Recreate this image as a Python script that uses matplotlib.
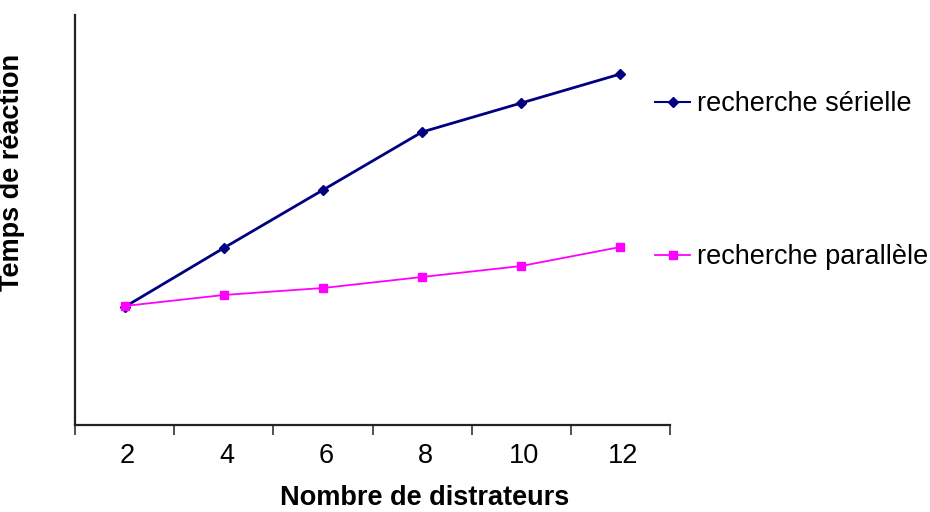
import matplotlib.pyplot as plt
from matplotlib.lines import Line2D

plt.rcParams['font.family'] = ['Liberation Sans', 'DejaVu Sans']

# data (y in arbitrary units, no scale shown on the original)
distracteurs = ['2', '4', '6', '8', '10', '12']
serielle = [118, 177, 235, 293, 322, 351]
parallele = [119, 130, 137, 148, 159, 178]

fig = plt.figure(figsize=(9.3, 5.12), dpi=100)
ax = fig.add_axes([75/930, 87/512, 595/930, 410/512])

xs = range(len(distracteurs))
ax.plot(xs, serielle, '-D', color='#000080', lw=2, ms=5)
ax.plot(xs, parallele, '-s', color='#FF00FF', lw=1.3, ms=6)

ax.set_xlim(-0.5, len(distracteurs) - 0.5)
ax.set_ylim(0, 410)

# excel style: tick marks between categories, labels at the centers
ax.set_xticks([i - 0.5 for i in range(len(distracteurs) + 1)])
ax.set_xticklabels([])
ax.set_xticks([i + 0.03 for i in xs], minor=True)
ax.set_xticklabels(distracteurs, minor=True, fontsize=19.5)
ax.tick_params(axis='x', which='major', length=7, width=1.2, color='#333333')
ax.tick_params(axis='x', which='minor', length=0, pad=13)
ax.set_yticks([])

for s in ['top', 'right']:
    ax.spines[s].set_visible(False)
for s in ['left', 'bottom']:
    ax.spines[s].set_linewidth(1.6)
    ax.spines[s].set_color('#222222')

ax.set_xlabel('Nombre de distrateurs', fontsize=19.5, fontweight='bold')
ax.xaxis.set_label_coords(0.588, -0.146)
ax.set_ylabel('Temps de réaction', fontsize=19.5, fontweight='bold')
ax.yaxis.set_label_coords(-0.084, 0.617)

# legend entries placed on the right, one per series
h1 = Line2D([], [], color='#000080', marker='D', ms=5, lw=1.5)
h2 = Line2D([], [], color='#FF00FF', marker='s', ms=6, lw=1.3)
kw = dict(frameon=False, fontsize=19.5, handlelength=1.3, handletextpad=0.25,
          borderpad=0, borderaxespad=0, loc='center left',
          bbox_transform=fig.transFigure)
leg1 = ax.legend([h1], ['recherche sérielle'], bbox_to_anchor=(655/930, 1 - 104/512), **kw)
ax.add_artist(leg1)
ax.legend([h2], ['recherche parallèle'], bbox_to_anchor=(655/930, 1 - 257/512), **kw)

fig.savefig('out.png', dpi=100)
